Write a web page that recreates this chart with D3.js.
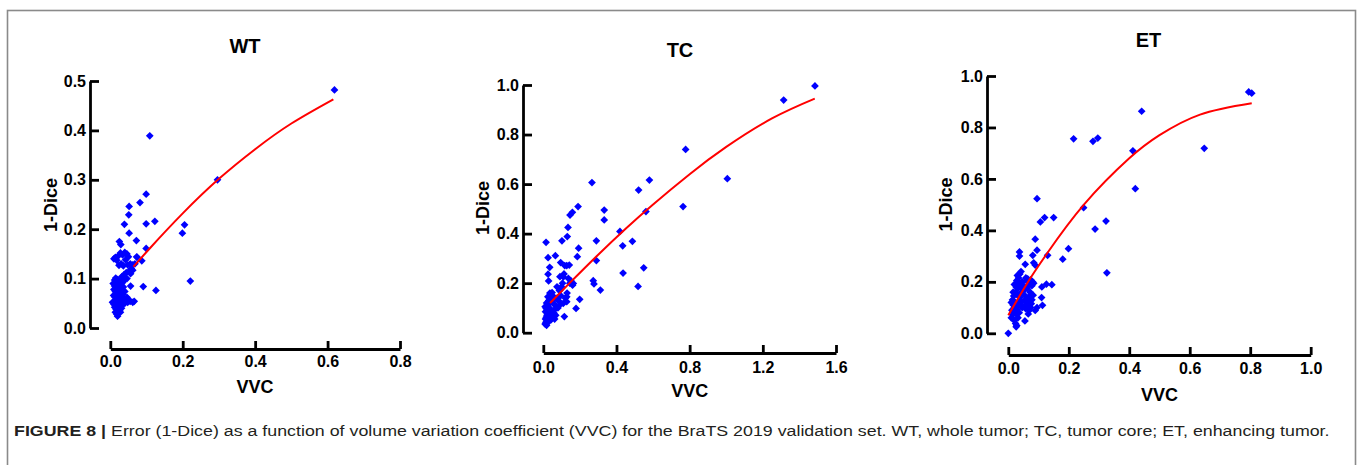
<!DOCTYPE html>
<html>
<head>
<meta charset="utf-8">
<script src="https://cdn.jsdelivr.net/npm/d3@7"></script>
<style>
  body { margin: 0; background: #fff; }
  svg { display: block; }
</style>
</head>
<body>
<div class="figure"></div>
<script>
// ---- values: [VVC, 1-Dice] ----
var wtPoints = [
  [0.619,0.482],[0.109,0.389],[0.296,0.300],[0.099,0.271],[0.082,0.254],[0.052,0.246],
  [0.051,0.229],[0.039,0.210],[0.099,0.211],[0.123,0.216],[0.205,0.209],[0.199,0.192],
  [0.052,0.192],[0.072,0.177],[0.025,0.175],[0.029,0.169],[0.099,0.161],[0.221,0.095],
  [0.126,0.076],[0.091,0.084],[0.073,0.144],[0.087,0.136],[0.056,0.085],
  [0.010,0.140],[0.014,0.143],[0.018,0.137],[0.022,0.146],[0.028,0.152],[0.034,0.148],
  [0.040,0.153],[0.046,0.150],[0.050,0.144],[0.042,0.138],[0.030,0.130],[0.024,0.127],
  [0.036,0.126],[0.048,0.128],[0.055,0.130],[0.062,0.128],[0.068,0.130],[0.074,0.143],
  [0.058,0.120],[0.052,0.115],[0.044,0.112],[0.038,0.108],[0.032,0.104],[0.056,0.110],
  [0.062,0.117],[0.046,0.100],[0.040,0.098],[0.015,0.101],[0.012,0.097],[0.020,0.098],
  [0.026,0.095],[0.034,0.092],
  [0.008,0.090],[0.012,0.085],[0.016,0.088],[0.020,0.082],[0.024,0.086],[0.030,0.080],
  [0.036,0.083],[0.010,0.078],[0.014,0.074],[0.018,0.070],[0.022,0.076],[0.028,0.072],
  [0.034,0.068],[0.040,0.074],[0.046,0.062],[0.050,0.058],[0.009,0.066],[0.013,0.062],
  [0.017,0.058],[0.021,0.064],[0.026,0.060],[0.031,0.056],[0.037,0.060],[0.042,0.055],
  [0.048,0.052],[0.055,0.054],[0.062,0.052],[0.066,0.054],[0.006,0.052],[0.010,0.048],
  [0.014,0.052],[0.019,0.046],[0.024,0.050],[0.029,0.046],[0.034,0.048],[0.040,0.050],
  [0.012,0.042],[0.016,0.038],[0.021,0.040],[0.026,0.036],[0.031,0.040],[0.014,0.032],
  [0.018,0.028],[0.022,0.030],[0.020,0.024],[0.028,0.032]
];
var wtFit = [[0.064,0.124],[0.11,0.162],[0.2,0.232],[0.3,0.302],[0.4,0.362],[0.5,0.414],[0.616,0.463]];
var wtXTicks = [0, 0.2, 0.4, 0.6, 0.8];
var wtYTicks = [0, 0.1, 0.2, 0.3, 0.4, 0.5];

var tcPoints = [
  [1.485,0.996],[1.314,0.939],[0.778,0.740],[1.006,0.622],[0.764,0.509],[0.580,0.616],
  [0.521,0.576],[0.561,0.489],[0.266,0.606],[0.333,0.495],[0.333,0.455],[0.419,0.409],
  [0.434,0.351],[0.487,0.369],[0.290,0.371],[0.290,0.291],[0.436,0.241],[0.549,0.262],
  [0.518,0.187],[0.273,0.210],[0.277,0.197],[0.312,0.172],[0.190,0.509],[0.159,0.486],
  [0.146,0.475],[0.135,0.425],[0.131,0.388],[0.102,0.371],[0.193,0.341],[0.186,0.307],
  [0.199,0.135],[0.179,0.098],[0.015,0.365],[0.026,0.303],[0.066,0.311],[0.035,0.264],
  [0.026,0.236],[0.029,0.209],[0.095,0.283],[0.117,0.271],[0.128,0.271],[0.142,0.273],
  [0.113,0.237],[0.091,0.226],[0.137,0.219],[0.164,0.199],[0.160,0.192],[0.115,0.065],
  [0.128,0.145],[0.128,0.125],[0.109,0.118],[0.100,0.186],[0.091,0.172],
  [0.010,0.035],[0.014,0.042],[0.018,0.030],[0.022,0.048],[0.012,0.055],[0.016,0.062],
  [0.020,0.070],[0.026,0.058],[0.030,0.045],[0.024,0.080],[0.028,0.090],[0.012,0.085],
  [0.016,0.098],[0.010,0.105],[0.020,0.110],[0.034,0.100],[0.040,0.085],[0.046,0.075],
  [0.050,0.065],[0.058,0.080],[0.064,0.095],[0.070,0.108],[0.038,0.120],[0.030,0.130],
  [0.044,0.140],[0.050,0.150],[0.060,0.135],[0.075,0.140],[0.085,0.128],[0.025,0.145],
  [0.036,0.160],[0.048,0.162],[0.055,0.118],[0.068,0.070],[0.080,0.100],[0.090,0.112],
  [0.042,0.052],[0.018,0.120],[0.032,0.072],[0.062,0.055],[0.095,0.150],[0.088,0.170],
  [0.075,0.185],[0.105,0.200],[0.110,0.225],[0.120,0.140],[0.130,0.160],[0.145,0.200],
  [0.150,0.210]
];
var tcFit = [[0.037,0.12],[0.15,0.205],[0.3,0.315],[0.45,0.42],[0.6,0.518],[0.8,0.64],[1.0,0.75],[1.25,0.865],[1.484,0.945]];
var tcXTicks = [0, 0.4, 0.8, 1.2, 1.6];
var tcYTicks = [0, 0.2, 0.4, 0.6, 0.8, 1.0];

var etPoints = [
  [0.795,0.938],[0.805,0.933],[0.441,0.863],[0.648,0.719],[0.412,0.709],[0.420,0.562],
  [0.216,0.756],[0.280,0.746],[0.296,0.759],[0.249,0.488],[0.287,0.405],[0.323,0.436],
  [0.326,0.235],[0.199,0.329],[0.180,0.288],[0.095,0.523],[0.106,0.433],[0.120,0.450],
  [0.150,0.450],[0.089,0.366],[0.095,0.323],[0.081,0.303],[0.084,0.274],[0.089,0.265],
  [0.130,0.303],[0.037,0.316],[0.037,0.300],[0.056,0.268],[0.111,0.180],[0.126,0.191],
  [0.144,0.189],[0.110,0.139],[0.113,0.109],[0.055,0.048],[0.000,0.000],[0.089,0.089],
  [0.095,0.100],[0.026,0.025],
  [0.010,0.060],[0.014,0.072],[0.018,0.085],[0.012,0.090],[0.020,0.100],[0.024,0.088],
  [0.016,0.110],[0.022,0.120],[0.028,0.105],[0.030,0.092],[0.026,0.075],[0.020,0.050],
  [0.024,0.038],[0.028,0.030],[0.032,0.060],[0.036,0.080],[0.034,0.120],[0.040,0.112],
  [0.044,0.125],[0.038,0.140],[0.030,0.150],[0.024,0.160],[0.018,0.145],[0.014,0.130],
  [0.026,0.180],[0.032,0.175],[0.020,0.190],[0.028,0.205],[0.034,0.215],[0.038,0.230],
  [0.042,0.240],[0.030,0.225],[0.046,0.200],[0.050,0.185],[0.048,0.170],[0.052,0.150],
  [0.056,0.130],[0.060,0.120],[0.064,0.110],[0.058,0.095],[0.070,0.090],[0.074,0.100],
  [0.066,0.140],[0.072,0.160],[0.062,0.175],[0.068,0.190],[0.060,0.205],[0.064,0.212],
  [0.074,0.208],[0.080,0.200],[0.078,0.185],[0.084,0.195],[0.070,0.125],[0.078,0.130],
  [0.082,0.148],[0.046,0.100],[0.052,0.105],[0.040,0.180],[0.054,0.170],[0.044,0.160],
  [0.016,0.160],[0.010,0.120],[0.036,0.195],[0.058,0.215],[0.066,0.075],[0.076,0.115]
];
var etFit = [[0.0,0.07],[0.06,0.19],[0.128,0.31],[0.25,0.50],[0.4,0.68],[0.5,0.77],[0.634,0.85],[0.805,0.894]];
var etXTicks = [0, 0.2, 0.4, 0.6, 0.8, 1.0];
var etYTicks = [0, 0.2, 0.4, 0.6, 0.8, 1.0];

var panelTitles = ["WT", "TC", "ET"];
var xTitle = "VVC";
var yTitle = "1-Dice";
var captionBold = "FIGURE 8 |";
var captionText = " Error (1-Dice) as a function of volume variation coefficient (VVC) for the BraTS 2019 validation set. WT, whole tumor; TC, tumor core; ET, enhancing tumor.";

// ---- layout ----
var Width = 1358, Height = 465;
var font = "'Liberation Sans', Arial, Helvetica, sans-serif";

var svg = d3.select(".figure").append("svg")
    .attr("width", Width)
    .attr("height", Height);

// figure frame
svg.append("rect")
    .attr("x", 7.5).attr("y", 10.5)
    .attr("width", 1348).attr("height", 480)
    .attr("fill", "none")
    .attr("stroke", "#8a8a8a")
    .attr("stroke-width", 1.6);

var fmt = d3.format(".1f");

var panels = [
  {title: panelTitles[0], points: wtPoints, fit: wtFit, xTicks: wtXTicks, yTicks: wtYTicks,
   x0: 110.3, x1: 400, y0: 328, y1: 81, yAxisX: 90, xAxisY: 349, xPad: 7,
   titleX: 245, titleY: 53, xLabX: 255, xLabY: 393, yLabX: 57, yLabY: 205},
  {title: panelTitles[1], points: tcPoints, fit: tcFit, xTicks: tcXTicks, yTicks: tcYTicks,
   x0: 543.3, x1: 836, y0: 332.7, y1: 85, yAxisX: 523, xAxisY: 353, xPad: 8.5,
   titleX: 680, titleY: 57, xLabX: 689.7, xLabY: 397, yLabX: 489, yLabY: 208},
  {title: panelTitles[2], points: etPoints, fit: etFit, xTicks: etXTicks, yTicks: etYTicks,
   x0: 1008.3, x1: 1310.7, y0: 333.3, y1: 76, yAxisX: 987, xAxisY: 355, xPad: 7.5,
   titleX: 1148.5, titleY: 47, xLabX: 1159.5, xLabY: 401, yLabX: 952, yLabY: 204.5}
];

var diamond = d3.symbol().type(d3.symbolSquare).size(30);

function styleAxis(ax) {
  ax.attr("font-family", font).attr("font-size", 16).attr("font-weight", "bold");
  ax.select(".domain").attr("stroke", "#000").attr("stroke-width", 2.8);
  ax.selectAll(".tick line").attr("stroke", "#000").attr("stroke-width", 2.8);
  ax.selectAll(".tick text").attr("fill", "#000");
}

panels.forEach(function(p) {
  var x = d3.scaleLinear().domain([0, d3.max(p.xTicks)]).range([p.x0, p.x1]);
  var y = d3.scaleLinear().domain([0, d3.max(p.yTicks)]).range([p.y0, p.y1]);
  var g = svg.append("g");

  // y axis, ticks pointing inward
  var ya = g.append("g")
      .attr("transform", "translate(" + p.yAxisX + ",0)")
      .call(d3.axisLeft(y).tickValues(p.yTicks).tickFormat(fmt)
        .tickSizeInner(-9).tickSizeOuter(0).tickPadding(4));
  styleAxis(ya);

  // x axis, detached below the plot
  var xa = g.append("g")
      .attr("transform", "translate(0," + p.xAxisY + ")")
      .call(d3.axisBottom(x).tickValues(p.xTicks).tickFormat(fmt)
        .tickSizeInner(-8).tickSizeOuter(0).tickPadding(p.xPad));
  styleAxis(xa);

  // scatter points (blue diamonds)
  g.selectAll(".pt")
      .data(p.points)
    .join("path")
      .attr("class", "pt")
      .attr("d", diamond)
      .attr("transform", function(d) {
        return "translate(" + x(d[0]) + "," + y(d[1]) + ") rotate(45)";
      })
      .attr("fill", "#0000ff");

  // fitted curve
  var fitLine = d3.line()
      .curve(d3.curveNatural)
      .x(function(d) { return x(d[0]); })
      .y(function(d) { return y(d[1]); });
  g.append("path")
      .datum(p.fit)
      .attr("d", fitLine)
      .attr("fill", "none")
      .attr("stroke", "#ff0000")
      .attr("stroke-width", 2);

  // panel title
  g.append("text")
      .attr("x", p.titleX).attr("y", p.titleY)
      .attr("text-anchor", "middle")
      .attr("font-family", font).attr("font-weight", "bold").attr("font-size", 20)
      .text(p.title);

  // x label
  g.append("text")
      .attr("x", p.xLabX).attr("y", p.xLabY)
      .attr("text-anchor", "middle")
      .attr("font-family", font).attr("font-weight", "bold").attr("font-size", 18)
      .text(xTitle);

  // y label
  g.append("text")
      .attr("transform", "translate(" + p.yLabX + "," + p.yLabY + ") rotate(-90)")
      .attr("text-anchor", "middle")
      .attr("font-family", font).attr("font-weight", "bold").attr("font-size", 18)
      .text(yTitle);
});

// caption: taller glyphs squeezed horizontally to the width used in the figure
var cap = svg.append("text")
    .attr("x", 0).attr("y", 0)
    .attr("font-family", font).attr("font-size", 14.5)
    .attr("fill", "#231f20");
cap.append("tspan").attr("font-weight", "bold").text(captionBold);
cap.append("tspan").text(captionText);
var capLen = cap.node().getComputedTextLength();
cap.attr("transform", "translate(14,435.5) scale(" + (1316 / capLen) + ",1)");
</script>
</body>
</html>
